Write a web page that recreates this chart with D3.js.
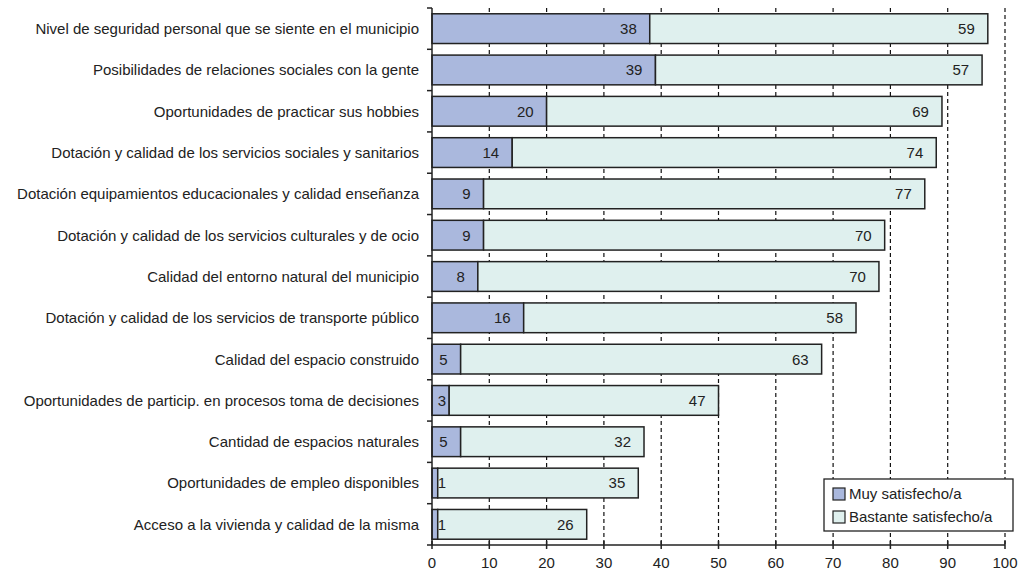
<!DOCTYPE html>
<html>
<head>
<meta charset="utf-8">
<script src="https://cdn.jsdelivr.net/npm/d3@7"></script>
<style>
  body { margin: 0; background: #fff; }
  text { font-family: "Liberation Sans", Arial, Helvetica, sans-serif; fill: #222; }
</style>
</head>
<body>
<svg id="chart" width="1024" height="573"></svg>
<script>
var categories = [
	"Nivel de seguridad personal que se siente en el municipio",
	"Posibilidades de relaciones sociales con la gente",
	"Oportunidades de practicar sus hobbies",
	"Dotación y calidad de los servicios sociales y sanitarios",
	"Dotación equipamientos educacionales y calidad enseñanza",
	"Dotación y calidad de los servicios culturales y de ocio",
	"Calidad del entorno natural del municipio",
	"Dotación y calidad de los servicios de transporte público",
	"Calidad del espacio construido",
	"Oportunidades de particip. en procesos toma de decisiones",
	"Cantidad de espacios naturales",
	"Oportunidades de empleo disponibles",
	"Acceso a la vivienda y calidad de la misma"
];
var muySatisfecho = [38, 39, 20, 14, 9, 9, 8, 16, 5, 3, 5, 1, 1];
var bastanteSatisfecho = [59, 57, 69, 74, 77, 70, 70, 58, 63, 47, 32, 35, 26];
var seriesNames = ["Muy satisfecho/a", "Bastante satisfecho/a"];
var xTicks = [0, 10, 20, 30, 40, 50, 60, 70, 80, 90, 100];

var seriesColors = ["#aab8dd", "#dff0ee"];
var strokeColor = "#222";
var fontSize = "15px";

var svg = d3.select("#chart");

var x = d3.scaleLinear().domain([0, 100]).range([432, 1005]);
var y = d3.scaleBand().domain(categories).range([8, 545]).paddingInner(0.28).paddingOuter(0.14);

// dashed gridlines behind the bars
svg.append("g").selectAll("line")
	.data(xTicks.slice(1))
	.enter().append("line")
	.attr("x1", function(d){ return x(d); })
	.attr("x2", function(d){ return x(d); })
	.attr("y1", 8).attr("y2", 545)
	.attr("stroke", "#111").attr("stroke-width", 1.2)
	.attr("stroke-dasharray", "4,3");

// stack the two series
var rows = categories.map(function(c, i){
	return { cat: c, vals: [muySatisfecho[i], bastanteSatisfecho[i]] };
});
var segs = [];
rows.forEach(function(r){
	var acc = 0;
	r.vals.forEach(function(v, k){
		segs.push({ cat: r.cat, k: k, v: v, x0: acc, x1: acc + v });
		acc += v;
	});
});

var bars = svg.append("g");
bars.selectAll("rect")
	.data(segs)
	.enter().append("rect")
	.attr("x", function(d){ return x(d.x0); })
	.attr("y", function(d){ return y(d.cat); })
	.attr("width", function(d){ return x(d.x1) - x(d.x0); })
	.attr("height", y.bandwidth())
	.attr("fill", function(d){ return seriesColors[d.k]; })
	.attr("stroke", strokeColor)
	.attr("stroke-width", 1.5);

// value labels, right aligned near the end of each segment
bars.selectAll("text")
	.data(segs)
	.enter().append("text")
	.attr("x", function(d){ return Math.max(x(d.x1) - 13, x(d.x0) + 14); })
	.attr("y", function(d){ return y(d.cat) + y.bandwidth() / 2; })
	.attr("dy", "0.36em")
	.attr("text-anchor", "end")
	.style("font-size", fontSize)
	.text(function(d){ return d.v; });

// y axis: line, ticks at band boundaries, category labels
var yAxis = svg.append("g");
yAxis.append("line")
	.attr("x1", 432).attr("x2", 432).attr("y1", 8).attr("y2", 545)
	.attr("stroke", strokeColor).attr("stroke-width", 1.5);
yAxis.selectAll(".ytick")
	.data(d3.range(categories.length + 1))
	.enter().append("line")
	.attr("x1", 427).attr("x2", 432)
	.attr("y1", function(k){ return 8 + k * y.step(); })
	.attr("y2", function(k){ return 8 + k * y.step(); })
	.attr("stroke", strokeColor).attr("stroke-width", 1.5);
yAxis.selectAll(".ylabel")
	.data(categories)
	.enter().append("text")
	.attr("x", 419)
	.attr("y", function(d){ return y(d) + y.bandwidth() / 2; })
	.attr("dy", "0.36em")
	.attr("text-anchor", "end")
	.style("font-size", fontSize)
	.text(function(d){ return d; });

// x axis
var xAxis = svg.append("g");
xAxis.append("line")
	.attr("x1", 432).attr("x2", 1005).attr("y1", 545).attr("y2", 545)
	.attr("stroke", strokeColor).attr("stroke-width", 1.5);
xAxis.selectAll(".xtick")
	.data(xTicks)
	.enter().append("line")
	.attr("x1", function(d){ return x(d); })
	.attr("x2", function(d){ return x(d); })
	.attr("y1", 541).attr("y2", 549)
	.attr("stroke", strokeColor).attr("stroke-width", 1.5);
xAxis.selectAll(".xlabel")
	.data(xTicks)
	.enter().append("text")
	.attr("x", function(d){ return x(d); })
	.attr("y", 563)
	.attr("dy", "0.36em")
	.attr("text-anchor", "middle")
	.style("font-size", fontSize)
	.text(function(d){ return d; });

// legend
var legend = svg.append("g");
legend.append("rect")
	.attr("x", 824).attr("y", 479).attr("width", 189).attr("height", 52)
	.attr("fill", "#fff").attr("stroke", strokeColor).attr("stroke-width", 1.3);
var items = legend.selectAll(".item")
	.data(seriesNames)
	.enter().append("g")
	.attr("transform", function(d, i){ return "translate(833," + (494 + i * 23) + ")"; });
items.append("rect")
	.attr("x", 0).attr("y", -6).attr("width", 12).attr("height", 12)
	.attr("fill", function(d, i){ return seriesColors[i]; })
	.attr("stroke", strokeColor).attr("stroke-width", 1.2);
items.append("text")
	.attr("x", 16).attr("y", 0).attr("dy", "0.36em")
	.style("font-size", fontSize)
	.text(function(d){ return d; });
</script>
</body>
</html>
